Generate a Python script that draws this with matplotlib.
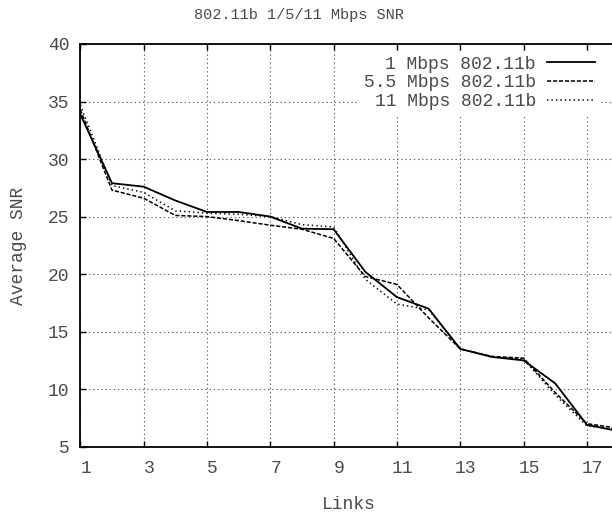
import matplotlib
matplotlib.use("Agg")
import matplotlib.pyplot as plt
import matplotlib.transforms as mtransforms

plt.rcParams['font.family'] = ['Liberation Mono', 'DejaVu Sans Mono']
plt.rcParams['lines.scale_dashes'] = False

links = list(range(1, 19))
snr_1mbps = [33.9, 27.9, 27.6, 26.4, 25.4, 25.4, 25.0, 23.95, 23.9, 20.2,
             18.0, 17.0, 13.5, 12.8, 12.5, 10.5, 6.9, 6.35]
snr_5_5mbps = [34.3, 27.3, 26.6, 25.1, 25.0, 24.65, 24.25, 23.9, 23.1, 19.8,
               19.1, 16.2, 13.5, 12.85, 12.7, 9.7, 7.0, 6.6]
snr_11mbps = [34.7, 27.7, 27.1, 25.5, 25.3, 25.2, 25.0, 24.3, 24.1, 19.55,
              17.4, 16.9, 13.5, 12.8, 12.6, 9.5, 6.8, 6.5]
series_labels = ["1 Mbps 802.11b", "5.5 Mbps 802.11b", "11 Mbps 802.11b"]
xticks = list(range(1, 18, 2))
yticks = list(range(5, 41, 5))

TEXT = '#4a4a4a'
W, H = 612, 512
fig = plt.figure(figsize=(W / 100, H / 100), dpi=100)

# plot frame runs off the right edge of the canvas
left, right, top, bottom = 80.3, 618.6, 44.0, 446.7
ax = fig.add_axes([left / W, 1 - bottom / H, (right - left) / W, (bottom - top) / H])

ax.plot(links, snr_1mbps, color='black', lw=1.3, ls='-', label=series_labels[0])
ax.plot(links, snr_5_5mbps, color='black', lw=1.1, ls=(0, (3.0, 1.3)), label=series_labels[1])
ax.plot(links, snr_11mbps, color='black', lw=1.1, ls=(0, (1.0, 2.2)), label=series_labels[2])

ax.set_xlim(1, 18)
ax.set_ylim(5, 40)
ax.set_xticks(xticks)
ax.set_yticks(yticks)
ax.tick_params(direction='in', length=4.5, width=1.0, top=True, right=True,
               labelsize=13, labelcolor=TEXT, pad=8)
for lab in ax.get_xticklabels():
    lab.set_transform(lab.get_transform() +
                      mtransforms.ScaledTranslation(5.5 / 100, -2.5 / 100, fig.dpi_scale_trans))

ax.grid(True, color='#666666', lw=0.8, ls=(0, (1.0, 2.0)))
ax.set_axisbelow(True)
for sp in ax.spines.values():
    sp.set_linewidth(1.3)
    sp.set_color('black')

leg = ax.legend(loc='upper right', bbox_to_anchor=(600 / W, 1 - 51 / H),
                bbox_transform=fig.transFigure, markerfirst=False,
                fontsize=13, handlelength=2.7, handletextpad=0.6,
                labelspacing=0.1, borderpad=0.25, borderaxespad=0,
                frameon=True, fancybox=False, framealpha=1.0)
leg.get_frame().set_edgecolor('none')
leg.get_frame().set_facecolor('white')
for t in leg.get_texts():
    t.set_color(TEXT)

fig.text(298.8 / W, 1 - 19.5 / H, "802.11b 1/5/11 Mbps SNR", ha='center',
         va='baseline', fontsize=11, color=TEXT)
fig.text(19 / W, 1 - 245.5 / H, "Average SNR", rotation=90, ha='center',
         va='center', fontsize=13, color=TEXT)
fig.text(349 / W, 1 - 509 / H, "Links", ha='center', va='baseline',
         fontsize=13, color=TEXT)

fig.savefig("out.png", dpi=100)
